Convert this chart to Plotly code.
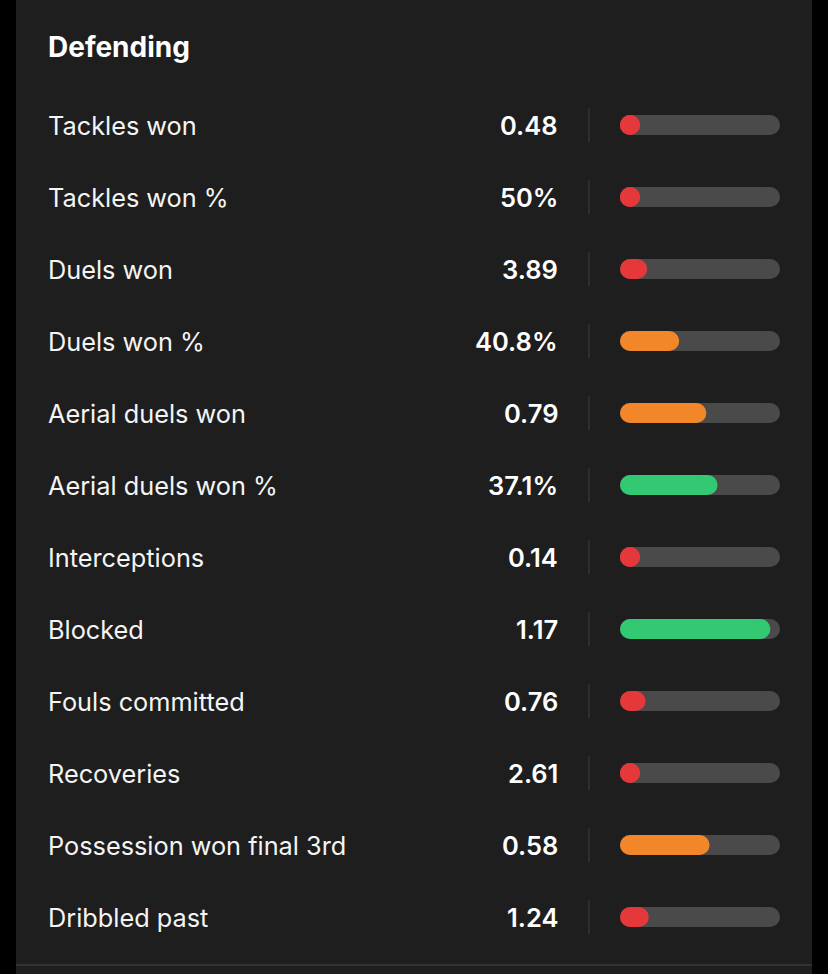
import plotly.graph_objects as go

# rows of the "Defending" block
labels = [
    "Tackles won", "Tackles won %", "Duels won", "Duels won %",
    "Aerial duels won", "Aerial duels won %", "Interceptions", "Blocked",
    "Fouls committed", "Recoveries", "Possession won final 3rd", "Dribbled past",
]
values = ["0.48", "50%", "3.89", "40.8%", "0.79", "37.1%", "0.14", "1.17",
          "0.76", "2.61", "0.58", "1.24"]
# percentile rank shown by each bar (0-100)
percentiles = [10, 10, 17, 37, 54, 61, 10, 94, 16, 10, 56, 18]
tiers = ["low", "low", "low", "mid", "mid", "high", "low", "high",
         "low", "low", "mid", "low"]

TIER_COLORS = {"low": "#e5383b", "mid": "#f2872a", "high": "#33c872"}
BG = "#1e1e1e"
TRACK = "#4a4a4a"
FONT = "Inter"

W, H = 828, 974
ROW0, ROW_STEP = 125, 72          # px centre of first row, row pitch
BAR_X0, BAR_X1 = 620, 780          # px extent of the track
BAR_H = 20
R = (BAR_H / 2) / (BAR_X1 - BAR_X0) * 100   # cap radius in axis units

n = len(labels)
top_px = ROW0 - ROW_STEP / 2
bot_px = ROW0 + ROW_STEP * (n - 0.5)

fig = go.Figure()

# grey tracks
tx, ty = [], []
for lab in labels:
    tx += [R, 100 - R, None]
    ty += [lab, lab, None]
fig.add_trace(go.Scatter(
    x=tx, y=ty, mode="lines+markers",
    line=dict(color=TRACK, width=BAR_H),
    marker=dict(color=TRACK, size=BAR_H, line_width=0),
    hoverinfo="skip", cliponaxis=False,
))

# coloured bars
for lab, p, t in zip(labels, percentiles, tiers):
    end = max(p - R, R)
    fig.add_trace(go.Scatter(
        x=[R, end], y=[lab, lab], mode="lines+markers",
        line=dict(color=TIER_COLORS[t], width=BAR_H),
        marker=dict(color=TIER_COLORS[t], size=BAR_H, line_width=0),
        hovertemplate=f"{lab}: {p}th pct<extra></extra>", cliponaxis=False,
    ))

annotations = [dict(
    text="<b>Defending</b>", x=46 / W, y=1 - 47 / H, xref="paper", yref="paper",
    xanchor="left", yanchor="middle", showarrow=False,
    font=dict(family=FONT, size=28, color="#ffffff"),
)]
shapes = [
    dict(type="rect", xref="paper", yref="paper", x0=16 / W, x1=812 / W, y0=0, y1=1,
         fillcolor=BG, line_width=0, layer="below"),
    dict(type="line", xref="paper", yref="paper", x0=16 / W, x1=812 / W,
         y0=1 - 965 / H, y1=1 - 965 / H, line=dict(color="#3a3a3a", width=1.5)),
]
for i, (lab, val) in enumerate(zip(labels, values)):
    annotations.append(dict(
        text=lab, x=46 / W, y=lab, xref="paper", yref="y",
        xanchor="left", yanchor="middle", showarrow=False,
        font=dict(family=FONT, size=25.3, color="#f4f4f4"),
    ))
    annotations.append(dict(
        text=val, x=560 / W, y=lab, xref="paper", yref="y",
        xanchor="right", yanchor="middle", showarrow=False,
        font=dict(family=FONT, size=25.5, color="#ffffff", weight=600),
    ))
    shapes.append(dict(
        type="line", xref="paper", yref="y", x0=589 / W, x1=589 / W,
        y0=i - 17 / ROW_STEP, y1=i + 17 / ROW_STEP,
        line=dict(color="#3a3a3a", width=1.2),
    ))

fig.update_layout(
    width=W, height=H,
    margin=dict(l=0, r=0, t=0, b=0),
    paper_bgcolor="#000000", plot_bgcolor="rgba(0,0,0,0)",
    showlegend=False,
    xaxis=dict(domain=[BAR_X0 / W, BAR_X1 / W], range=[0, 100], visible=False,
               fixedrange=True),
    yaxis=dict(domain=[1 - bot_px / H, 1 - top_px / H], type="category",
               categoryorder="array", categoryarray=labels,
               range=[n - 0.5, -0.5], visible=False, fixedrange=True),
    annotations=annotations,
    shapes=shapes,
)

# page body has an 8px default margin; drop it so the figure fills the window
fig.write_html("out.html", config={"displayModeBar": False},
               post_script="document.body.style.margin='0';")
